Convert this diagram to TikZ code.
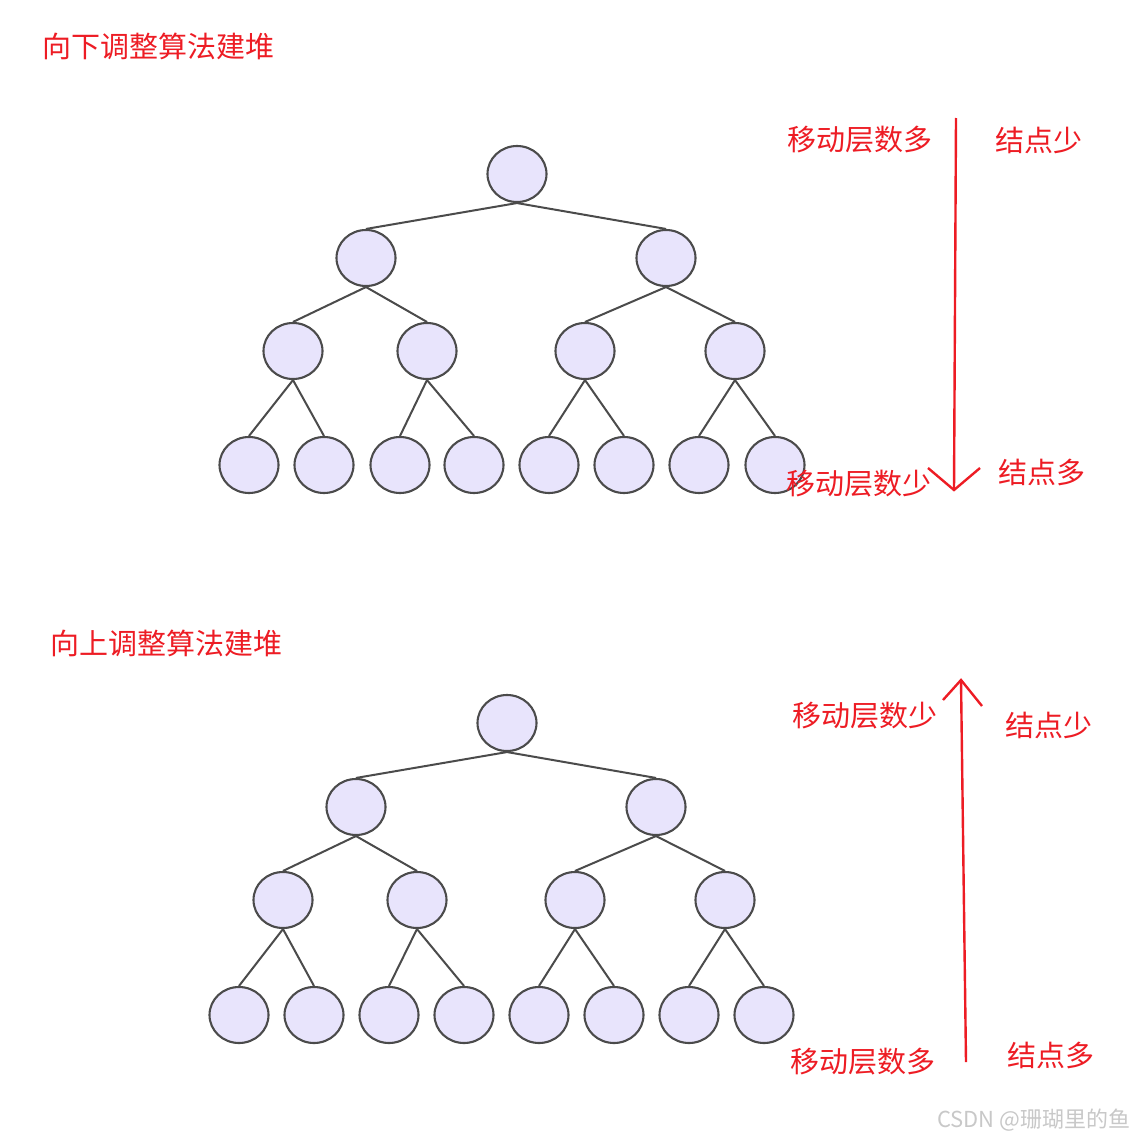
\documentclass[tikz,border=0pt]{standalone}
\usepackage{fontspec}
\usetikzlibrary{shapes.geometric}
\newfontfamily\cjk{Noto Sans CJK SC}
\definecolor{penred}{RGB}{237,28,36}
\definecolor{nodefill}{RGB}{232,228,252}
\definecolor{nodeline}{RGB}{75,75,75}
\definecolor{wmgray}{RGB}{200,200,200}
\tikzset{
  hnode/.style={ellipse, draw=nodeline, fill=nodefill, line width=2.1pt, minimum width=59pt, minimum height=56pt, inner sep=0pt},
  hedge/.style={draw=nodeline, line width=2pt},
  redtxt/.style={text=penred, font=\cjk\fontsize{29}{32}\selectfont, anchor=west, inner sep=0pt},
  redline/.style={draw=penred, line width=2.4pt},
  wm/.style={text=wmgray, font=\cjk\fontsize{22}{25}\selectfont, anchor=west, inner sep=0pt}
}
\begin{document}
\begin{tikzpicture}[x=1pt,y=-1pt]
\useasboundingbox (0,0) rectangle (1133,1140);
% ---------- top tree ----------
\node[hnode] (a1) at (517,174) {};
\node[hnode] (a2) at (366,258) {};
\node[hnode] (a3) at (666,258) {};
\node[hnode] (a4) at (293,351) {};
\node[hnode] (a5) at (427,351) {};
\node[hnode] (a6) at (585,351) {};
\node[hnode] (a7) at (735,351) {};
\node[hnode] (a8) at (249,465) {};
\node[hnode] (a9) at (324,465) {};
\node[hnode] (a10) at (400,465) {};
\node[hnode] (a11) at (474,465) {};
\node[hnode] (a12) at (549,465) {};
\node[hnode] (a13) at (624,465) {};
\node[hnode] (a14) at (699,465) {};
\node[hnode] (a15) at (775,465) {};
\foreach \p/\c in {a1/a2,a1/a3,a2/a4,a2/a5,a3/a6,a3/a7,a4/a8,a4/a9,a5/a10,a5/a11,a6/a12,a6/a13,a7/a14,a7/a15}
  \draw[hedge] (\p.south) -- (\c.north);
% ---------- bottom tree ----------
\node[hnode] (b1) at (507,723) {};
\node[hnode] (b2) at (356,807) {};
\node[hnode] (b3) at (656,807) {};
\node[hnode] (b4) at (283,900) {};
\node[hnode] (b5) at (417,900) {};
\node[hnode] (b6) at (575,900) {};
\node[hnode] (b7) at (725,900) {};
\node[hnode] (b8) at (239,1015) {};
\node[hnode] (b9) at (314,1015) {};
\node[hnode] (b10) at (389,1015) {};
\node[hnode] (b11) at (464,1015) {};
\node[hnode] (b12) at (539,1015) {};
\node[hnode] (b13) at (614,1015) {};
\node[hnode] (b14) at (689,1015) {};
\node[hnode] (b15) at (764,1015) {};
\foreach \p/\c in {b1/b2,b1/b3,b2/b4,b2/b5,b3/b6,b3/b7,b4/b8,b4/b9,b5/b10,b5/b11,b6/b12,b6/b13,b7/b14,b7/b15}
  \draw[hedge] (\p.south) -- (\c.north);
% ---------- titles ----------
\node[redtxt] (t1) at (42,46) {向下调整算法建堆};
\node[redtxt] (t2) at (50,643) {向上调整算法建堆};
% ---------- top labels & arrow ----------
\node[redtxt] (l1) at (787,140) {移动层数多};
\node[redtxt] (l2) at (995,140) {结点少};
\node[redtxt] (l3) at (786,484) {移动层数少};
\node[redtxt] (l4) at (998,472) {结点多};
\coordinate (d0) at (956,118);
\coordinate (d1) at (954,490);
\coordinate (dl) at (928,468);
\coordinate (dr) at (980,468);
\draw[redline] (d0) -- (d1);
\draw[redline] (dl) -- (d1) -- (dr);
% ---------- bottom labels & arrow ----------
\node[redtxt] (m1) at (792,716) {移动层数少};
\node[redtxt] (m2) at (1005,725) {结点少};
\node[redtxt] (m3) at (790,1062) {移动层数多};
\node[redtxt] (m4) at (1007,1055) {结点多};
\coordinate (u0) at (966,1062);
\coordinate (u1) at (961,680);
\coordinate (ul) at (943,700);
\coordinate (ur) at (982,706);
\draw[redline] (u0) -- (u1);
\draw[redline] (ul) -- (u1) -- (ur);
% ---------- watermark ----------
\node[wm] (w) at (937,1120) {CSDN @珊瑚里的鱼};
\end{tikzpicture}
\end{document}
